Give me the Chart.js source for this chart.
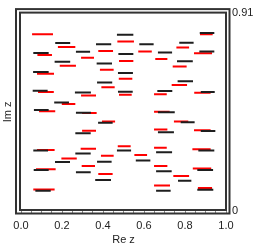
<!DOCTYPE html>
<html>
<head>
<meta charset="utf-8">
<script src="https://cdn.jsdelivr.net/npm/chart.js@4"></script>
<style>
    html, body { margin: 0; padding: 0; background: #fff; }
    #wrap { width: 256px; height: 249px; }
</style>
</head>
<body>
<div id="wrap"><canvas id="levelsChart" width="256" height="249"></canvas></div>
<script>
// black segments: start x, end x, height
const blackX0 = [0.060, 0.059, 0.057, 0.063, 0.060, 0.062, 0.070, 0.167, 0.164, 0.162, 0.166,
    0.268, 0.263, 0.268, 0.265, 0.265, 0.268, 0.366, 0.369, 0.371, 0.376, 0.371, 0.362,
    0.468, 0.475, 0.473, 0.473, 0.468, 0.577, 0.560, 0.668, 0.665, 0.668, 0.668, 0.659,
    0.659, 0.659, 0.772, 0.761, 0.764, 0.779, 0.766, 0.872, 0.870, 0.877, 0.877, 0.865,
    0.860, 0.860];
const blackX1 = [0.135, 0.135, 0.130, 0.135, 0.132, 0.135, 0.145, 0.240, 0.240, 0.234, 0.239,
    0.337, 0.341, 0.341, 0.340, 0.340, 0.340, 0.440, 0.444, 0.445, 0.447, 0.442, 0.439,
    0.548, 0.548, 0.546, 0.545, 0.537, 0.647, 0.631, 0.737, 0.738, 0.750, 0.746, 0.737,
    0.735, 0.730, 0.842, 0.838, 0.839, 0.847, 0.831, 0.943, 0.943, 0.945, 0.948, 0.943,
    0.937, 0.938];
const blackY = [0.725, 0.638, 0.552, 0.463, 0.277, 0.188, 0.093, 0.771, 0.685, 0.498, 0.225,
    0.731, 0.543, 0.451, 0.357, 0.264, 0.178, 0.765, 0.676, 0.589, 0.405, 0.226, 0.142,
    0.808, 0.720, 0.633, 0.547, 0.277, 0.765, 0.232, 0.727, 0.550, 0.453, 0.361, 0.269,
    0.182, 0.093, 0.772, 0.687, 0.595, 0.407, 0.139, 0.817, 0.732, 0.546, 0.367, 0.277,
    0.188, 0.098];

// red segments
const redX0 = [0.054, 0.080, 0.078, 0.083, 0.088, 0.078, 0.073, 0.060, 0.180, 0.189, 0.199,
    0.197, 0.293, 0.293, 0.298, 0.298, 0.291, 0.296, 0.377, 0.385, 0.392, 0.395, 0.390,
    0.377, 0.470, 0.478, 0.477, 0.478, 0.472, 0.572, 0.553, 0.655, 0.649, 0.649, 0.649,
    0.649, 0.649, 0.649, 0.758, 0.740, 0.735, 0.746, 0.743, 0.873, 0.844, 0.845, 0.844,
    0.836, 0.838, 0.863];
const redX1 = [0.156, 0.151, 0.161, 0.160, 0.167, 0.164, 0.169, 0.164, 0.265, 0.268, 0.265,
    0.272, 0.356, 0.366, 0.369, 0.366, 0.366, 0.361, 0.449, 0.452, 0.457, 0.459, 0.452,
    0.447, 0.551, 0.548, 0.543, 0.540, 0.535, 0.638, 0.615, 0.714, 0.711, 0.725, 0.714,
    0.711, 0.714, 0.727, 0.820, 0.808, 0.810, 0.816, 0.820, 0.935, 0.932, 0.925, 0.925,
    0.925, 0.928, 0.932];
const redY = [0.811, 0.716, 0.630, 0.546, 0.457, 0.280, 0.191, 0.099, 0.752, 0.666, 0.491,
    0.241, 0.703, 0.530, 0.450, 0.368, 0.286, 0.206, 0.734, 0.648, 0.568, 0.411, 0.253,
    0.170, 0.777, 0.688, 0.607, 0.533, 0.297, 0.732, 0.257, 0.697, 0.536, 0.455, 0.374,
    0.290, 0.206, 0.117, 0.750, 0.663, 0.578, 0.411, 0.160, 0.811, 0.724, 0.542, 0.370,
    0.283, 0.195, 0.105];

const xTicks = [0, 0.2, 0.4, 0.6, 0.8, 1.0];
const yTicks = [0, 0.91];

function segmentPoints(x0, x1, y) {
    const pts = [];
    for (let i = 0; i < y.length; i++) {
        pts.push({ x: x0[i], y: y[i] }, { x: x1[i], y: y[i] }, { x: x1[i], y: null });
    }
    return pts;
}

// double frame round the plot
const framePlugin = {
    id: 'frame',
    afterDraw(chart) {
        const { ctx, chartArea: a } = chart;
        ctx.save();
        ctx.strokeStyle = '#333';
        ctx.lineWidth = 2;
        ctx.strokeRect(a.left - 1, a.top, a.right - a.left + 1, a.bottom - a.top - 1);
        ctx.strokeRect(a.left - 5, a.top - 3.5, a.right - a.left + 8.5, a.bottom - a.top + 6);
        ctx.restore();
    }
};

document.addEventListener('DOMContentLoaded', () => {
    const font = { family: '"Liberation Sans", Arial, sans-serif', size: 11 };
    new Chart(document.getElementById('levelsChart'), {
        type: 'scatter',
        data: {
            datasets: [{
                data: segmentPoints(blackX0, blackX1, blackY),
                showLine: true,
                spanGaps: false,
                borderColor: '#1e1e1e',
                borderWidth: 2,
                pointRadius: 0
            }, {
                data: segmentPoints(redX0, redX1, redY),
                showLine: true,
                spanGaps: false,
                borderColor: '#ff0000',
                borderWidth: 2,
                pointRadius: 0
            }]
        },
        options: {
            responsive: false,
            animation: false,
            layout: { padding: { top: 6, left: 0, right: 0, bottom: 0 } },
            plugins: { legend: { display: false }, tooltip: { enabled: false } },
            scales: {
                x: {
                    type: 'linear', position: 'bottom', min: 0, max: 1,
                    afterFit: s => { s.height = 38; },
                    afterBuildTicks: s => {
                        const t = [];
                        for (let i = 0; i <= 20; i++) t.push({ value: i * 0.05 });
                        s.ticks = t;
                    },
                    ticks: {
                        autoSkip: false, maxRotation: 0, padding: 6, color: '#222', font,
                        callback: v => {
                            const hit = xTicks.find(t => Math.abs(t - v) < 1e-6);
                            return hit === undefined ? '' : hit.toFixed(1);
                        }
                    },
                    grid: { display: true, drawOnChartArea: false, drawTicks: true, tickLength: 2, color: '#888', lineWidth: 1 },
                    border: { display: false },
                    title: { display: true, text: 'Re z', color: '#222', font, padding: { top: 0, bottom: 2 } }
                },
                y: {
                    type: 'linear', position: 'right', min: 0, max: 0.91,
                    afterFit: s => { s.width = 30; },
                    afterBuildTicks: s => { s.ticks = yTicks.map(v => ({ value: v })); },
                    ticks: { padding: 6, color: '#222', font, callback: v => (v === 0 ? '0' : String(v)) },
                    grid: { display: false, drawTicks: false },
                    border: { display: false }
                },
                yl: {
                    type: 'linear', position: 'left', min: 0, max: 1,
                    afterFit: s => { s.width = 21; },
                    ticks: { display: false },
                    grid: { display: false, drawTicks: false },
                    border: { display: false },
                    title: { display: true, text: 'Im z', color: '#222', font, padding: { top: 1, bottom: 0 } }
                }
            }
        },
        plugins: [framePlugin]
    });
});
</script>
</body>
</html>
